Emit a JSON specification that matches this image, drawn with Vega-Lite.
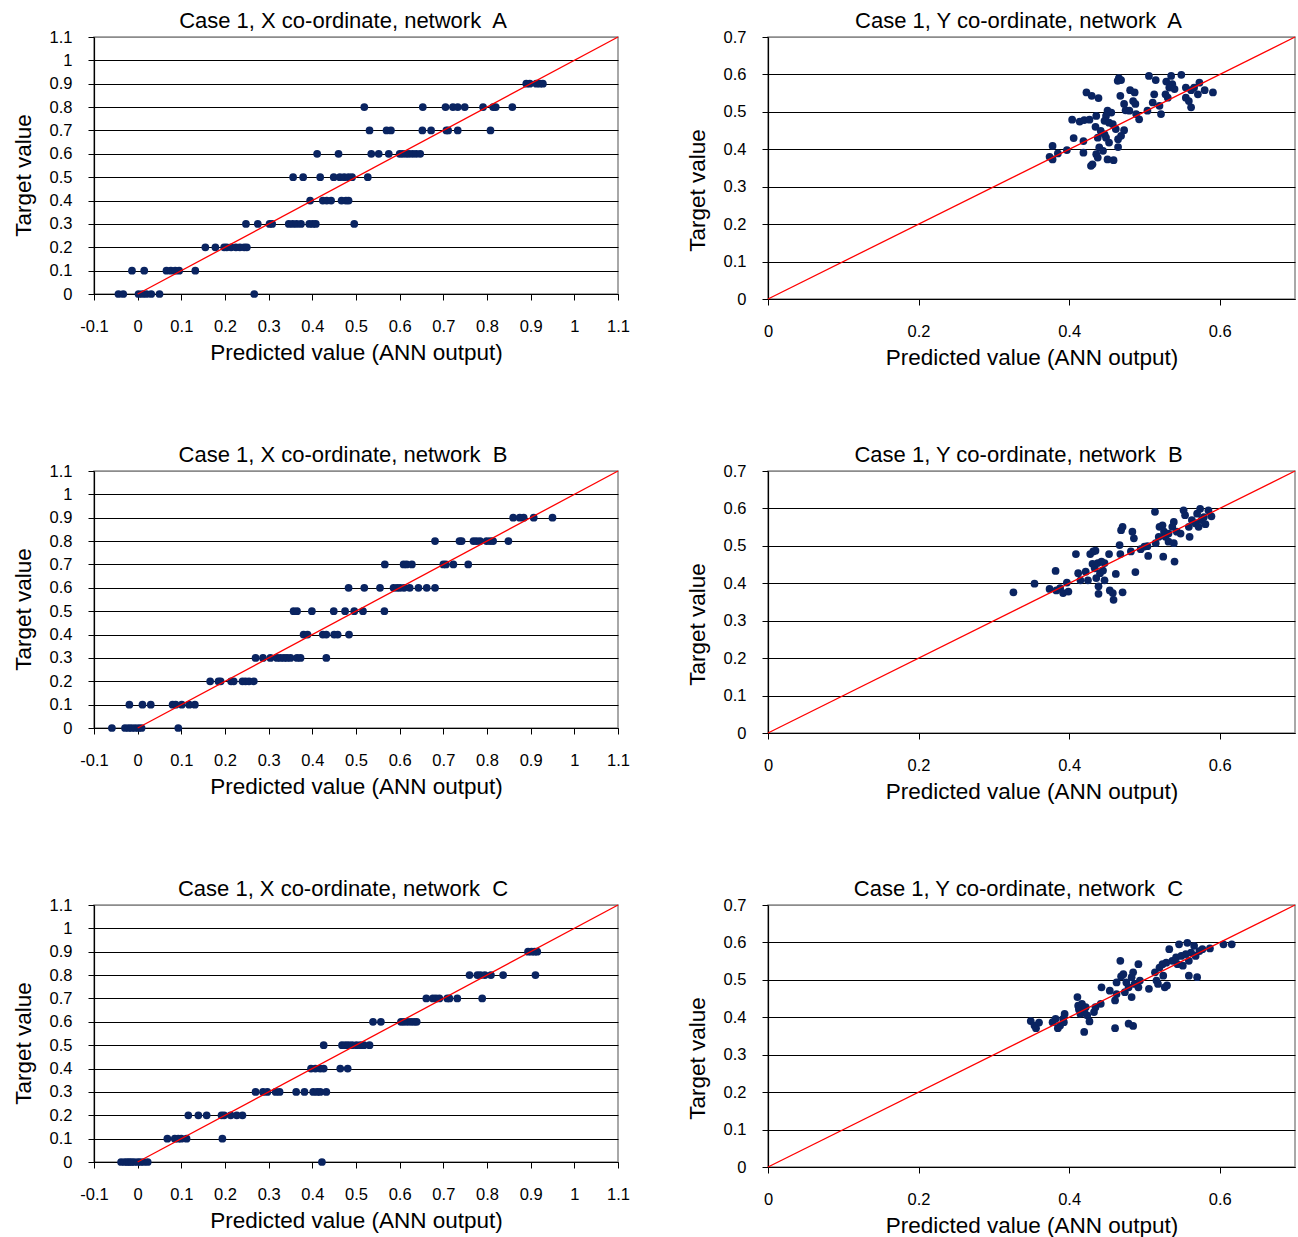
{
"$schema": "https://vega.github.io/schema/vega-lite/v6.json",
"padding": {"left": 11, "top": 9, "right": 0, "bottom": 0},
"background": "white",
"columns": 2,
"bounds": "flush",
"align": "each",
"spacing": {"row": 172, "column": 150},
"config": {
  "font": "Liberation Sans",
  "view": {"stroke": "#8c8c8c", "strokeWidth": 1.5},
  "axis": {"domainColor": "#000", "domainWidth": 1.2, "tickColor": "#000", "tickSize": 6, "labelFont": "Liberation Sans", "labelFontSize": 16.5, "labelColor": "#000", "titleFont": "Liberation Sans", "titleFontSize": 22.5, "titleFontWeight": "normal", "titleColor": "#000", "gridWidth": 1, "labelOverlap": false, "labelFlush": false, "labelBound": false},
  "axisX": {"grid": false, "labelPadding": 18, "titlePadding": 7},
  "axisY": {"grid": true, "labelPadding": 16, "titlePadding": 14},
  "title": {"font": "Liberation Sans", "fontSize": 22, "fontWeight": "normal", "color": "#000", "anchor": "middle", "frame": "group", "baseline": "alphabetic", "offset": -4, "dx": -13}
},
"datasets": {
  "diagX": [{"x": 0, "y": 0}, {"x": 1.1, "y": 1.1}],
  "diagY": [{"x": 0, "y": 0}, {"x": 0.7, "y": 0.7}],
  "ax": [
    {"x": -0.044, "y": 0}, {"x": -0.033, "y": 0}, {"x": 0.002, "y": 0}, {"x": 0.011, "y": 0}, {"x": 0.02, "y": 0}, {"x": 0.031, "y": 0}, {"x": 0.05, "y": 0}, {"x": 0.267, "y": 0},
    {"x": -0.013, "y": 0.1}, {"x": 0.015, "y": 0.1}, {"x": 0.066, "y": 0.1}, {"x": 0.076, "y": 0.1}, {"x": 0.086, "y": 0.1}, {"x": 0.095, "y": 0.1}, {"x": 0.132, "y": 0.1},
    {"x": 0.155, "y": 0.2}, {"x": 0.178, "y": 0.2}, {"x": 0.198, "y": 0.2}, {"x": 0.204, "y": 0.2}, {"x": 0.214, "y": 0.2}, {"x": 0.225, "y": 0.2}, {"x": 0.234, "y": 0.2}, {"x": 0.244, "y": 0.2}, {"x": 0.25, "y": 0.2},
    {"x": 0.248, "y": 0.3}, {"x": 0.275, "y": 0.3}, {"x": 0.302, "y": 0.3}, {"x": 0.308, "y": 0.3}, {"x": 0.346, "y": 0.3}, {"x": 0.355, "y": 0.3}, {"x": 0.364, "y": 0.3}, {"x": 0.374, "y": 0.3}, {"x": 0.393, "y": 0.3}, {"x": 0.401, "y": 0.3}, {"x": 0.408, "y": 0.3}, {"x": 0.496, "y": 0.3},
    {"x": 0.395, "y": 0.4}, {"x": 0.424, "y": 0.4}, {"x": 0.433, "y": 0.4}, {"x": 0.443, "y": 0.4}, {"x": 0.467, "y": 0.4}, {"x": 0.477, "y": 0.4}, {"x": 0.483, "y": 0.4},
    {"x": 0.356, "y": 0.5}, {"x": 0.379, "y": 0.5}, {"x": 0.418, "y": 0.5}, {"x": 0.449, "y": 0.5}, {"x": 0.463, "y": 0.5}, {"x": 0.473, "y": 0.5}, {"x": 0.483, "y": 0.5}, {"x": 0.491, "y": 0.5}, {"x": 0.527, "y": 0.5},
    {"x": 0.411, "y": 0.6}, {"x": 0.46, "y": 0.6}, {"x": 0.535, "y": 0.6}, {"x": 0.552, "y": 0.6}, {"x": 0.575, "y": 0.6}, {"x": 0.6, "y": 0.6}, {"x": 0.607, "y": 0.6}, {"x": 0.615, "y": 0.6}, {"x": 0.622, "y": 0.6}, {"x": 0.63, "y": 0.6}, {"x": 0.638, "y": 0.6}, {"x": 0.647, "y": 0.6},
    {"x": 0.531, "y": 0.7}, {"x": 0.57, "y": 0.7}, {"x": 0.58, "y": 0.7}, {"x": 0.652, "y": 0.7}, {"x": 0.672, "y": 0.7}, {"x": 0.707, "y": 0.7}, {"x": 0.711, "y": 0.7}, {"x": 0.733, "y": 0.7}, {"x": 0.808, "y": 0.7},
    {"x": 0.519, "y": 0.8}, {"x": 0.653, "y": 0.8}, {"x": 0.705, "y": 0.8}, {"x": 0.722, "y": 0.8}, {"x": 0.733, "y": 0.8}, {"x": 0.749, "y": 0.8}, {"x": 0.791, "y": 0.8}, {"x": 0.814, "y": 0.8}, {"x": 0.82, "y": 0.8}, {"x": 0.858, "y": 0.8},
    {"x": 0.89, "y": 0.9}, {"x": 0.898, "y": 0.9}, {"x": 0.913, "y": 0.9}, {"x": 0.921, "y": 0.9}, {"x": 0.928, "y": 0.9}
  ],
  "bx": [
    {"x": -0.059, "y": 0}, {"x": -0.029, "y": 0}, {"x": -0.021, "y": 0}, {"x": -0.014, "y": 0}, {"x": -0.006, "y": 0}, {"x": 0.002, "y": 0}, {"x": 0.009, "y": 0}, {"x": 0.093, "y": 0},
    {"x": -0.019, "y": 0.1}, {"x": 0.011, "y": 0.1}, {"x": 0.03, "y": 0.1}, {"x": 0.08, "y": 0.1}, {"x": 0.087, "y": 0.1}, {"x": 0.101, "y": 0.1}, {"x": 0.118, "y": 0.1}, {"x": 0.131, "y": 0.1},
    {"x": 0.166, "y": 0.2}, {"x": 0.185, "y": 0.2}, {"x": 0.19, "y": 0.2}, {"x": 0.214, "y": 0.2}, {"x": 0.22, "y": 0.2}, {"x": 0.24, "y": 0.2}, {"x": 0.247, "y": 0.2}, {"x": 0.255, "y": 0.2}, {"x": 0.266, "y": 0.2},
    {"x": 0.27, "y": 0.3}, {"x": 0.287, "y": 0.3}, {"x": 0.304, "y": 0.3}, {"x": 0.319, "y": 0.3}, {"x": 0.327, "y": 0.3}, {"x": 0.335, "y": 0.3}, {"x": 0.342, "y": 0.3}, {"x": 0.35, "y": 0.3}, {"x": 0.365, "y": 0.3}, {"x": 0.373, "y": 0.3}, {"x": 0.432, "y": 0.3},
    {"x": 0.38, "y": 0.4}, {"x": 0.389, "y": 0.4}, {"x": 0.424, "y": 0.4}, {"x": 0.432, "y": 0.4}, {"x": 0.45, "y": 0.4}, {"x": 0.458, "y": 0.4}, {"x": 0.484, "y": 0.4},
    {"x": 0.357, "y": 0.5}, {"x": 0.365, "y": 0.5}, {"x": 0.399, "y": 0.5}, {"x": 0.449, "y": 0.5}, {"x": 0.475, "y": 0.5}, {"x": 0.496, "y": 0.5}, {"x": 0.516, "y": 0.5}, {"x": 0.565, "y": 0.5},
    {"x": 0.483, "y": 0.6}, {"x": 0.519, "y": 0.6}, {"x": 0.555, "y": 0.6}, {"x": 0.586, "y": 0.6}, {"x": 0.594, "y": 0.6}, {"x": 0.601, "y": 0.6}, {"x": 0.61, "y": 0.6}, {"x": 0.623, "y": 0.6}, {"x": 0.643, "y": 0.6}, {"x": 0.662, "y": 0.6}, {"x": 0.681, "y": 0.6},
    {"x": 0.566, "y": 0.7}, {"x": 0.609, "y": 0.7}, {"x": 0.616, "y": 0.7}, {"x": 0.628, "y": 0.7}, {"x": 0.7, "y": 0.7}, {"x": 0.706, "y": 0.7}, {"x": 0.723, "y": 0.7}, {"x": 0.757, "y": 0.7},
    {"x": 0.681, "y": 0.8}, {"x": 0.737, "y": 0.8}, {"x": 0.742, "y": 0.8}, {"x": 0.769, "y": 0.8}, {"x": 0.776, "y": 0.8}, {"x": 0.784, "y": 0.8}, {"x": 0.799, "y": 0.8}, {"x": 0.807, "y": 0.8}, {"x": 0.814, "y": 0.8}, {"x": 0.849, "y": 0.8},
    {"x": 0.86, "y": 0.9}, {"x": 0.875, "y": 0.9}, {"x": 0.884, "y": 0.9}, {"x": 0.907, "y": 0.9}, {"x": 0.95, "y": 0.9}
  ],
  "cx": [
    {"x": -0.038, "y": 0}, {"x": -0.03, "y": 0}, {"x": -0.024, "y": 0}, {"x": -0.019, "y": 0}, {"x": -0.014, "y": 0}, {"x": -0.008, "y": 0}, {"x": 0, "y": 0}, {"x": 0.006, "y": 0}, {"x": 0.014, "y": 0}, {"x": 0.023, "y": 0}, {"x": 0.422, "y": 0},
    {"x": 0.068, "y": 0.1}, {"x": 0.085, "y": 0.1}, {"x": 0.093, "y": 0.1}, {"x": 0.1, "y": 0.1}, {"x": 0.112, "y": 0.1}, {"x": 0.194, "y": 0.1},
    {"x": 0.116, "y": 0.2}, {"x": 0.139, "y": 0.2}, {"x": 0.158, "y": 0.2}, {"x": 0.192, "y": 0.2}, {"x": 0.198, "y": 0.2}, {"x": 0.213, "y": 0.2}, {"x": 0.227, "y": 0.2}, {"x": 0.24, "y": 0.2},
    {"x": 0.27, "y": 0.3}, {"x": 0.287, "y": 0.3}, {"x": 0.297, "y": 0.3}, {"x": 0.316, "y": 0.3}, {"x": 0.325, "y": 0.3}, {"x": 0.363, "y": 0.3}, {"x": 0.382, "y": 0.3}, {"x": 0.402, "y": 0.3}, {"x": 0.411, "y": 0.3}, {"x": 0.418, "y": 0.3}, {"x": 0.432, "y": 0.3},
    {"x": 0.397, "y": 0.4}, {"x": 0.407, "y": 0.4}, {"x": 0.418, "y": 0.4}, {"x": 0.426, "y": 0.4}, {"x": 0.464, "y": 0.4}, {"x": 0.481, "y": 0.4},
    {"x": 0.426, "y": 0.5}, {"x": 0.468, "y": 0.5}, {"x": 0.476, "y": 0.5}, {"x": 0.483, "y": 0.5}, {"x": 0.491, "y": 0.5}, {"x": 0.501, "y": 0.5}, {"x": 0.51, "y": 0.5}, {"x": 0.518, "y": 0.5}, {"x": 0.531, "y": 0.5},
    {"x": 0.539, "y": 0.6}, {"x": 0.557, "y": 0.6}, {"x": 0.603, "y": 0.6}, {"x": 0.61, "y": 0.6}, {"x": 0.618, "y": 0.6}, {"x": 0.626, "y": 0.6}, {"x": 0.633, "y": 0.6}, {"x": 0.639, "y": 0.6},
    {"x": 0.661, "y": 0.7}, {"x": 0.676, "y": 0.7}, {"x": 0.683, "y": 0.7}, {"x": 0.691, "y": 0.7}, {"x": 0.709, "y": 0.7}, {"x": 0.714, "y": 0.7}, {"x": 0.732, "y": 0.7}, {"x": 0.789, "y": 0.7},
    {"x": 0.76, "y": 0.8}, {"x": 0.778, "y": 0.8}, {"x": 0.785, "y": 0.8}, {"x": 0.795, "y": 0.8}, {"x": 0.809, "y": 0.8}, {"x": 0.837, "y": 0.8}, {"x": 0.911, "y": 0.8},
    {"x": 0.894, "y": 0.9}, {"x": 0.902, "y": 0.9}, {"x": 0.909, "y": 0.9}, {"x": 0.915, "y": 0.9}
  ],
  "ay": [
    {"x": 0.466, "y": 0.59}, {"x": 0.469, "y": 0.585}, {"x": 0.4645, "y": 0.583}, {"x": 0.506, "y": 0.596}, {"x": 0.515, "y": 0.585}, {"x": 0.5355, "y": 0.596}, {"x": 0.549, "y": 0.599}, {"x": 0.529, "y": 0.581}, {"x": 0.537, "y": 0.574}, {"x": 0.533, "y": 0.565}, {"x": 0.54, "y": 0.561}, {"x": 0.555, "y": 0.565}, {"x": 0.573, "y": 0.578}, {"x": 0.571, "y": 0.547}, {"x": 0.562, "y": 0.558}, {"x": 0.566, "y": 0.565}, {"x": 0.58, "y": 0.558}, {"x": 0.591, "y": 0.552}, {"x": 0.528, "y": 0.547}, {"x": 0.531, "y": 0.538}, {"x": 0.555, "y": 0.538}, {"x": 0.559, "y": 0.529}, {"x": 0.562, "y": 0.512}, {"x": 0.513, "y": 0.547}, {"x": 0.511, "y": 0.525}, {"x": 0.52, "y": 0.516}, {"x": 0.522, "y": 0.494}, {"x": 0.504, "y": 0.503},
    {"x": 0.423, "y": 0.552}, {"x": 0.43, "y": 0.543}, {"x": 0.439, "y": 0.537}, {"x": 0.468, "y": 0.543}, {"x": 0.481, "y": 0.558}, {"x": 0.487, "y": 0.552}, {"x": 0.485, "y": 0.529}, {"x": 0.473, "y": 0.521}, {"x": 0.475, "y": 0.504}, {"x": 0.48, "y": 0.503}, {"x": 0.488, "y": 0.521}, {"x": 0.489, "y": 0.494}, {"x": 0.493, "y": 0.48}, {"x": 0.451, "y": 0.503}, {"x": 0.456, "y": 0.498}, {"x": 0.449, "y": 0.489},
    {"x": 0.404, "y": 0.479}, {"x": 0.414, "y": 0.474}, {"x": 0.42, "y": 0.478}, {"x": 0.427, "y": 0.479}, {"x": 0.436, "y": 0.489}, {"x": 0.447, "y": 0.476}, {"x": 0.453, "y": 0.471}, {"x": 0.458, "y": 0.467}, {"x": 0.435, "y": 0.46}, {"x": 0.442, "y": 0.449}, {"x": 0.447, "y": 0.44}, {"x": 0.462, "y": 0.454}, {"x": 0.473, "y": 0.451}, {"x": 0.469, "y": 0.436}, {"x": 0.465, "y": 0.427}, {"x": 0.449, "y": 0.431}, {"x": 0.453, "y": 0.418}, {"x": 0.438, "y": 0.431}, {"x": 0.406, "y": 0.43}, {"x": 0.419, "y": 0.422},
    {"x": 0.378, "y": 0.409}, {"x": 0.397, "y": 0.398}, {"x": 0.385, "y": 0.389}, {"x": 0.374, "y": 0.38}, {"x": 0.378, "y": 0.373}, {"x": 0.419, "y": 0.391}, {"x": 0.44, "y": 0.405}, {"x": 0.445, "y": 0.396}, {"x": 0.436, "y": 0.387}, {"x": 0.465, "y": 0.406}, {"x": 0.451, "y": 0.373}, {"x": 0.459, "y": 0.371}, {"x": 0.431, "y": 0.36}, {"x": 0.429, "y": 0.356}, {"x": 0.438, "y": 0.378}
  ],
  "by": [
    {"x": 0.326, "y": 0.376}, {"x": 0.354, "y": 0.399}, {"x": 0.382, "y": 0.433}, {"x": 0.374, "y": 0.385}, {"x": 0.383, "y": 0.381}, {"x": 0.388, "y": 0.387}, {"x": 0.392, "y": 0.374}, {"x": 0.397, "y": 0.402}, {"x": 0.399, "y": 0.378}, {"x": 0.409, "y": 0.478}, {"x": 0.412, "y": 0.427}, {"x": 0.415, "y": 0.408}, {"x": 0.422, "y": 0.431}, {"x": 0.425, "y": 0.408}, {"x": 0.428, "y": 0.478}, {"x": 0.432, "y": 0.485}, {"x": 0.435, "y": 0.487}, {"x": 0.431, "y": 0.452}, {"x": 0.434, "y": 0.44}, {"x": 0.438, "y": 0.454}, {"x": 0.443, "y": 0.458}, {"x": 0.447, "y": 0.454}, {"x": 0.441, "y": 0.427}, {"x": 0.445, "y": 0.434}, {"x": 0.436, "y": 0.414}, {"x": 0.439, "y": 0.392}, {"x": 0.439, "y": 0.372}, {"x": 0.447, "y": 0.408}, {"x": 0.453, "y": 0.478}, {"x": 0.454, "y": 0.381}, {"x": 0.458, "y": 0.374}, {"x": 0.459, "y": 0.356}, {"x": 0.462, "y": 0.425},
    {"x": 0.467, "y": 0.502}, {"x": 0.468, "y": 0.478}, {"x": 0.469, "y": 0.542}, {"x": 0.471, "y": 0.551}, {"x": 0.471, "y": 0.376}, {"x": 0.484, "y": 0.538}, {"x": 0.486, "y": 0.52}, {"x": 0.482, "y": 0.485}, {"x": 0.488, "y": 0.43}, {"x": 0.495, "y": 0.491}, {"x": 0.5, "y": 0.498}, {"x": 0.504, "y": 0.499}, {"x": 0.505, "y": 0.473},
    {"x": 0.514, "y": 0.591}, {"x": 0.515, "y": 0.507}, {"x": 0.52, "y": 0.551}, {"x": 0.524, "y": 0.555}, {"x": 0.526, "y": 0.538}, {"x": 0.525, "y": 0.471}, {"x": 0.528, "y": 0.524}, {"x": 0.532, "y": 0.511}, {"x": 0.537, "y": 0.551}, {"x": 0.539, "y": 0.564}, {"x": 0.539, "y": 0.507}, {"x": 0.54, "y": 0.458}, {"x": 0.543, "y": 0.538}, {"x": 0.548, "y": 0.533}, {"x": 0.552, "y": 0.595}, {"x": 0.554, "y": 0.582}, {"x": 0.56, "y": 0.524}, {"x": 0.559, "y": 0.551}, {"x": 0.563, "y": 0.569}, {"x": 0.568, "y": 0.56}, {"x": 0.57, "y": 0.586}, {"x": 0.574, "y": 0.599}, {"x": 0.576, "y": 0.569}, {"x": 0.579, "y": 0.577}, {"x": 0.585, "y": 0.595}, {"x": 0.589, "y": 0.579}, {"x": 0.581, "y": 0.558}, {"x": 0.572, "y": 0.551}, {"x": 0.519, "y": 0.524}, {"x": 0.532, "y": 0.533}
  ],
  "cy": [
    {"x": 0.349, "y": 0.39}, {"x": 0.354, "y": 0.378}, {"x": 0.356, "y": 0.371}, {"x": 0.36, "y": 0.386}, {"x": 0.378, "y": 0.387}, {"x": 0.382, "y": 0.396}, {"x": 0.385, "y": 0.371}, {"x": 0.388, "y": 0.378}, {"x": 0.392, "y": 0.396}, {"x": 0.394, "y": 0.409}, {"x": 0.393, "y": 0.387},
    {"x": 0.411, "y": 0.454}, {"x": 0.412, "y": 0.431}, {"x": 0.413, "y": 0.421}, {"x": 0.415, "y": 0.409}, {"x": 0.417, "y": 0.436}, {"x": 0.42, "y": 0.416}, {"x": 0.422, "y": 0.427}, {"x": 0.424, "y": 0.405}, {"x": 0.427, "y": 0.389}, {"x": 0.42, "y": 0.361}, {"x": 0.433, "y": 0.414}, {"x": 0.435, "y": 0.427}, {"x": 0.442, "y": 0.436}, {"x": 0.443, "y": 0.48},
    {"x": 0.454, "y": 0.471}, {"x": 0.461, "y": 0.445}, {"x": 0.463, "y": 0.462}, {"x": 0.463, "y": 0.493}, {"x": 0.469, "y": 0.509}, {"x": 0.472, "y": 0.515}, {"x": 0.468, "y": 0.551}, {"x": 0.474, "y": 0.467}, {"x": 0.479, "y": 0.48}, {"x": 0.483, "y": 0.454}, {"x": 0.476, "y": 0.493}, {"x": 0.483, "y": 0.507}, {"x": 0.485, "y": 0.52}, {"x": 0.487, "y": 0.489}, {"x": 0.492, "y": 0.542}, {"x": 0.492, "y": 0.48}, {"x": 0.494, "y": 0.498},
    {"x": 0.506, "y": 0.476}, {"x": 0.514, "y": 0.52}, {"x": 0.516, "y": 0.498}, {"x": 0.518, "y": 0.489}, {"x": 0.52, "y": 0.533}, {"x": 0.525, "y": 0.511}, {"x": 0.527, "y": 0.48}, {"x": 0.53, "y": 0.485}, {"x": 0.524, "y": 0.542}, {"x": 0.529, "y": 0.546}, {"x": 0.533, "y": 0.582}, {"x": 0.537, "y": 0.551}, {"x": 0.542, "y": 0.56}, {"x": 0.544, "y": 0.542}, {"x": 0.546, "y": 0.595}, {"x": 0.549, "y": 0.564}, {"x": 0.551, "y": 0.538}, {"x": 0.555, "y": 0.569}, {"x": 0.557, "y": 0.599}, {"x": 0.559, "y": 0.551}, {"x": 0.562, "y": 0.573}, {"x": 0.559, "y": 0.511}, {"x": 0.566, "y": 0.591}, {"x": 0.568, "y": 0.564}, {"x": 0.57, "y": 0.507}, {"x": 0.573, "y": 0.577}, {"x": 0.577, "y": 0.582}, {"x": 0.587, "y": 0.584}, {"x": 0.605, "y": 0.595}, {"x": 0.616, "y": 0.595},
    {"x": 0.461, "y": 0.371}, {"x": 0.479, "y": 0.383}, {"x": 0.485, "y": 0.377}
  ]
},
"concat": [
  {
    "width": 524, "height": 257,
    "title": "Case 1, X co-ordinate, network\u00a0 A",
    "encoding": {
      "x": {"field": "x", "type": "quantitative", "scale": {"domain": [-0.1, 1.1], "nice": false, "zero": false}, "axis": {"title": "Predicted value (ANN output)", "values": [-0.1, 0, 0.1, 0.2, 0.3, 0.4, 0.5, 0.6, 0.7, 0.8, 0.9, 1, 1.1], "labelExpr": "datum.value < 0 ? '-' + format(-datum.value, '~g') : format(datum.value, '~g')"}},
      "y": {"field": "y", "type": "quantitative", "scale": {"domain": [0, 1.1], "nice": false}, "axis": {"title": "Target value", "titleY": 138, "values": [0, 0.1, 0.2, 0.3, 0.4, 0.5, 0.6, 0.7, 0.8, 0.9, 1, 1.1], "labelExpr": "format(datum.value, '~g')", "gridColor": {"condition": {"test": "datum.value > 1.05", "value": "#8c8c8c"}, "value": "#000"}}}
    },
    "layer": [
      {"data": {"name": "ax"}, "mark": {"type": "circle", "size": 60, "color": "#0a2461", "opacity": 1}},
      {"data": {"name": "diagX"}, "mark": {"type": "line", "color": "#ff0000", "strokeWidth": 1.3}}
    ]
  },
  {
    "width": 527, "height": 262,
    "title": "Case 1, Y co-ordinate, network\u00a0 A",
    "encoding": {
      "x": {"field": "x", "type": "quantitative", "scale": {"domain": [0, 0.7], "nice": false}, "axis": {"title": "Predicted value (ANN output)", "values": [0, 0.2, 0.4, 0.6], "labelExpr": "format(datum.value, '~g')"}},
      "y": {"field": "y", "type": "quantitative", "scale": {"domain": [0, 0.7], "nice": false}, "axis": {"title": "Target value", "titleY": 153, "values": [0, 0.1, 0.2, 0.3, 0.4, 0.5, 0.6, 0.7], "labelExpr": "format(datum.value, '~g')", "gridColor": {"condition": {"test": "datum.value > 0.65", "value": "#8c8c8c"}, "value": "#000"}}}
    },
    "layer": [
      {"data": {"name": "ay"}, "mark": {"type": "circle", "size": 60, "color": "#0a2461", "opacity": 1}},
      {"data": {"name": "diagY"}, "mark": {"type": "line", "color": "#ff0000", "strokeWidth": 1.3}}
    ]
  },
  {
    "width": 524, "height": 257,
    "title": "Case 1, X co-ordinate, network\u00a0 B",
    "encoding": {
      "x": {"field": "x", "type": "quantitative", "scale": {"domain": [-0.1, 1.1], "nice": false, "zero": false}, "axis": {"title": "Predicted value (ANN output)", "values": [-0.1, 0, 0.1, 0.2, 0.3, 0.4, 0.5, 0.6, 0.7, 0.8, 0.9, 1, 1.1], "labelExpr": "datum.value < 0 ? '-' + format(-datum.value, '~g') : format(datum.value, '~g')"}},
      "y": {"field": "y", "type": "quantitative", "scale": {"domain": [0, 1.1], "nice": false}, "axis": {"title": "Target value", "titleY": 138, "values": [0, 0.1, 0.2, 0.3, 0.4, 0.5, 0.6, 0.7, 0.8, 0.9, 1, 1.1], "labelExpr": "format(datum.value, '~g')", "gridColor": {"condition": {"test": "datum.value > 1.05", "value": "#8c8c8c"}, "value": "#000"}}}
    },
    "layer": [
      {"data": {"name": "bx"}, "mark": {"type": "circle", "size": 60, "color": "#0a2461", "opacity": 1}},
      {"data": {"name": "diagX"}, "mark": {"type": "line", "color": "#ff0000", "strokeWidth": 1.3}}
    ]
  },
  {
    "width": 527, "height": 262,
    "title": "Case 1, Y co-ordinate, network\u00a0 B",
    "encoding": {
      "x": {"field": "x", "type": "quantitative", "scale": {"domain": [0, 0.7], "nice": false}, "axis": {"title": "Predicted value (ANN output)", "values": [0, 0.2, 0.4, 0.6], "labelExpr": "format(datum.value, '~g')"}},
      "y": {"field": "y", "type": "quantitative", "scale": {"domain": [0, 0.7], "nice": false}, "axis": {"title": "Target value", "titleY": 153, "values": [0, 0.1, 0.2, 0.3, 0.4, 0.5, 0.6, 0.7], "labelExpr": "format(datum.value, '~g')", "gridColor": {"condition": {"test": "datum.value > 0.65", "value": "#8c8c8c"}, "value": "#000"}}}
    },
    "layer": [
      {"data": {"name": "by"}, "mark": {"type": "circle", "size": 60, "color": "#0a2461", "opacity": 1}},
      {"data": {"name": "diagY"}, "mark": {"type": "line", "color": "#ff0000", "strokeWidth": 1.3}}
    ]
  },
  {
    "width": 524, "height": 257,
    "title": "Case 1, X co-ordinate, network\u00a0 C",
    "encoding": {
      "x": {"field": "x", "type": "quantitative", "scale": {"domain": [-0.1, 1.1], "nice": false, "zero": false}, "axis": {"title": "Predicted value (ANN output)", "values": [-0.1, 0, 0.1, 0.2, 0.3, 0.4, 0.5, 0.6, 0.7, 0.8, 0.9, 1, 1.1], "labelExpr": "datum.value < 0 ? '-' + format(-datum.value, '~g') : format(datum.value, '~g')"}},
      "y": {"field": "y", "type": "quantitative", "scale": {"domain": [0, 1.1], "nice": false}, "axis": {"title": "Target value", "titleY": 138, "values": [0, 0.1, 0.2, 0.3, 0.4, 0.5, 0.6, 0.7, 0.8, 0.9, 1, 1.1], "labelExpr": "format(datum.value, '~g')", "gridColor": {"condition": {"test": "datum.value > 1.05", "value": "#8c8c8c"}, "value": "#000"}}}
    },
    "layer": [
      {"data": {"name": "cx"}, "mark": {"type": "circle", "size": 60, "color": "#0a2461", "opacity": 1}},
      {"data": {"name": "diagX"}, "mark": {"type": "line", "color": "#ff0000", "strokeWidth": 1.3}}
    ]
  },
  {
    "width": 527, "height": 262,
    "title": "Case 1, Y co-ordinate, network\u00a0 C",
    "encoding": {
      "x": {"field": "x", "type": "quantitative", "scale": {"domain": [0, 0.7], "nice": false}, "axis": {"title": "Predicted value (ANN output)", "values": [0, 0.2, 0.4, 0.6], "labelExpr": "format(datum.value, '~g')"}},
      "y": {"field": "y", "type": "quantitative", "scale": {"domain": [0, 0.7], "nice": false}, "axis": {"title": "Target value", "titleY": 153, "values": [0, 0.1, 0.2, 0.3, 0.4, 0.5, 0.6, 0.7], "labelExpr": "format(datum.value, '~g')", "gridColor": {"condition": {"test": "datum.value > 0.65", "value": "#8c8c8c"}, "value": "#000"}}}
    },
    "layer": [
      {"data": {"name": "cy"}, "mark": {"type": "circle", "size": 60, "color": "#0a2461", "opacity": 1}},
      {"data": {"name": "diagY"}, "mark": {"type": "line", "color": "#ff0000", "strokeWidth": 1.3}}
    ]
  }
]
}
